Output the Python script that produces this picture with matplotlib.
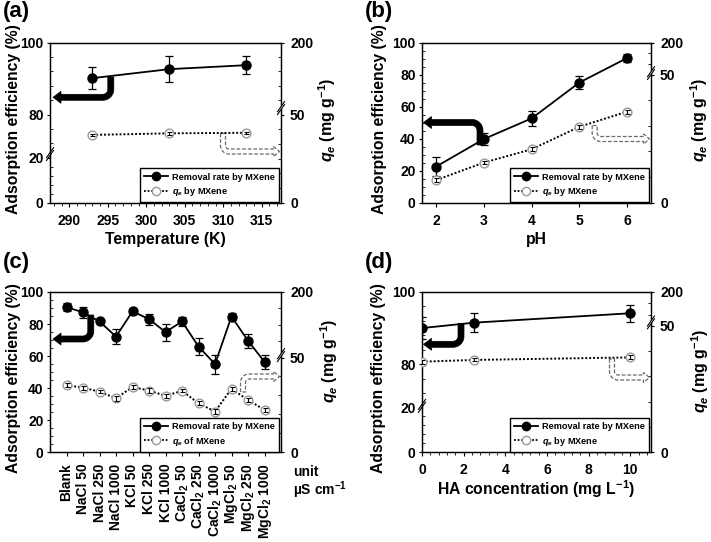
import numpy as np
import matplotlib
matplotlib.use('Agg')
import matplotlib.pyplot as plt
from matplotlib import transforms
from matplotlib.ticker import FixedLocator, MultipleLocator, NullLocator
from matplotlib.lines import Line2D
from matplotlib.patches import Polygon

plt.rcParams.update({
    'font.family': ['Liberation Sans', 'DejaVu Sans'],
    'font.weight': 'bold',
    'axes.labelweight': 'bold',
    'mathtext.fontset': 'custom',
    'mathtext.rm': 'Liberation Sans:bold',
    'mathtext.it': 'Liberation Sans:italic:bold',
    'mathtext.bf': 'Liberation Sans:bold',
    'axes.linewidth': 0.9,
})

# ---------------- data ----------------
temp = [293, 303, 313]
removal_a = [90.1, 92.6, 93.7]
removal_a_err = [3.1, 3.6, 2.5]
qe_a = [38.4, 39.3, 39.6]
qe_a_err = [0.8, 0.8, 0.6]

ph = [2, 3, 4, 5, 6]
removal_b = [22.5, 39.7, 52.6, 75.0, 90.3]
removal_b_err = [6.0, 4.0, 4.6, 4.0, 2.6]
qe_b = [8.8, 15.6, 20.8, 29.6, 35.5]
qe_b_err = [0.8, 0.6, 0.8, 0.8, 0.8]

salts = ['Blank', 'NaCl 50', 'NaCl 250', 'NaCl 1000', 'KCl 50', 'KCl 250',
         'KCl 1000', 'CaCl$_2$ 50', 'CaCl$_2$ 250', 'CaCl$_2$ 1000',
         'MgCl$_2$ 50', 'MgCl$_2$ 250', 'MgCl$_2$ 1000']
removal_c = [90.6, 87.3, 81.6, 72.2, 87.9, 83.1, 75.0, 81.6, 66.0, 55.0, 84.7, 69.6, 56.4]
removal_c_err = [2.4, 3.5, 1.0, 4.6, 1.6, 3.4, 5.3, 2.9, 5.4, 6.0, 1.9, 4.4, 4.5]
qe_c = [35.4, 34.1, 32.0, 28.5, 34.4, 32.6, 29.8, 32.4, 25.9, 21.5, 33.5, 27.6, 22.4]
qe_c_err = [1.2, 1.0, 0.8, 1.2, 1.0, 1.2, 1.2, 0.8, 1.2, 1.2, 1.0, 1.0, 1.0]

ha_conc = [0, 2.5, 10]
removal_d = [90.0, 91.5, 94.1]
removal_d_err = [3.0, 2.6, 2.4]
qe_d = [35.8, 36.5, 37.5]
qe_d_err = [0.8, 0.6, 0.8]

W, H = 711, 542
fig = plt.figure(figsize=(W / 100, H / 100), dpi=100)
pix = transforms.Affine2D().scale(1 / W, -1 / H).translate(0, 1) + fig.transFigure


def add_axes_px(l, t, r, b):
    return fig.add_axes([l / W, 1 - b / H, (r - l) / W, (b - t) / H])


def piecewise(vals, pos):
    vals = np.asarray(vals, float)
    pos = np.asarray(pos, float)
    s0 = (pos[1] - pos[0]) / (vals[1] - vals[0])
    s1 = (pos[-1] - pos[-2]) / (vals[-1] - vals[-2])
    v = np.r_[vals[0] - 1e4, vals, vals[-1] + 1e4]
    p = np.r_[pos[0] - 1e4 * s0, pos, pos[-1] + 1e4 * s1]
    return (lambda x: np.interp(x, v, p)), (lambda y: np.interp(y, p, v))


def slash(ax_y, xa, yv, off=0.0):
    blend = transforms.blended_transform_factory(ax_y.transAxes, ax_y.transData)
    tr = fig.dpi_scale_trans + transforms.ScaledTranslation(xa, yv, blend)
    o = off / 100.0
    dx, dy, g = 0.035, 0.05, 0.028
    poly = Polygon([(-dx, -dy + o), (dx, dy + o), (dx, dy + g + o), (-dx, -dy + g + o)],
                   closed=True, facecolor='white', edgecolor='none',
                   transform=tr, clip_on=False, zorder=6)
    ax_y.add_artist(poly)
    for gg in (0, g):
        ax_y.add_artist(Line2D([-dx, dx], [-dy + gg + o, dy + gg + o], color='k', lw=0.8,
                               transform=tr, clip_on=False, zorder=7))


def bent_arrow(ax, x0, y0, yh, xtip, r, w, hw, hl, face, edge, ls, lw, n=14):
    sv = 1 if yh > y0 else -1
    sh = 1 if xtip > x0 else -1
    cx, cy = x0 + sh * r, yh - sv * r
    pts = [(x0, y0)]
    nrm = [(-sh, 0)]
    for t in np.linspace(0, np.pi / 2, n):
        pts.append((cx - sh * r * np.cos(t), cy + sv * r * np.sin(t)))
        nrm.append((-sh * np.cos(t), sv * np.sin(t)))
    xb = xtip - sh * hl
    pts.append((xb, yh))
    nrm.append((0, sv))
    pts = np.array(pts)
    nrm = np.array(nrm)
    outer = pts + nrm * w / 2
    inner = pts - nrm * w / 2
    head = [(xb, yh + sv * hw / 2), (xtip, yh), (xb, yh - sv * hw / 2)]
    verts = np.vstack([outer, head, inner[::-1]])
    poly = Polygon(verts, closed=True, facecolor=face, edgecolor=edge, linestyle=ls,
                   linewidth=lw, transform=pix, clip_on=False, zorder=2)
    ax.add_artist(poly)


def panel(box, x, rem, rem_err, qe, qe_err, xlim, lmap, rmap, lmaj, lmin, rmaj, rmin,
          xmaj, xmin, leg_q, ylab_pos, qlab_pos, xlabel=None, xticklabels=None):
    ax = add_axes_px(*box)
    ax2 = ax.twinx()
    if lmap is not None:
        ax.set_yscale('function', functions=piecewise(*lmap))
    ax2.set_yscale('function', functions=piecewise(*rmap))
    ax.set_ylim(0, 100)
    ax2.set_ylim(0, 200)
    ax.set_xlim(*xlim)

    ax.errorbar(x, rem, yerr=rem_err, fmt='-o', color='k', ms=6.5, lw=1.3,
                elinewidth=0.9, capsize=2.6, capthick=0.9, zorder=3)
    ax2.plot(x, qe, ls=(0, (1, 1)), color='k', lw=1.4, marker='o', ms=6.3,
             mfc='white', mec='#9a9a9a', mew=1.0, zorder=3)
    ax2.errorbar(x, qe, yerr=qe_err, fmt='none', ecolor='k', elinewidth=0.8,
                 capsize=1.8, capthick=0.8, zorder=4)

    ax.yaxis.set_major_locator(FixedLocator(lmaj))
    ax.yaxis.set_minor_locator(FixedLocator(lmin))
    ax2.yaxis.set_major_locator(FixedLocator(rmaj))
    ax2.yaxis.set_minor_locator(FixedLocator(rmin))
    ax.xaxis.set_major_locator(FixedLocator(xmaj))
    if xmin is None:
        ax.xaxis.set_minor_locator(NullLocator())
    else:
        ax.xaxis.set_minor_locator(MultipleLocator(xmin))
    if xticklabels is not None:
        ax.set_xticklabels(xticklabels, rotation=90, fontsize=9.8)

    ax.tick_params(axis='y', which='major', direction='out', length=2.5, width=0.8,
                   pad=2, labelsize=10)
    ax.tick_params(axis='y', which='minor', direction='in', length=2.5, width=0.6)
    ax2.tick_params(axis='y', which='major', direction='out', length=2.5, width=0.8,
                    pad=4, labelsize=10)
    ax2.tick_params(axis='y', which='minor', direction='in', length=2.5, width=0.6)
    ax.tick_params(axis='x', which='major', direction='out', length=3, width=0.8,
                   pad=5, labelsize=10)
    ax.tick_params(axis='x', which='minor', direction='out', length=2, width=0.6)

    ax.set_ylabel('Adsorption efficiency (%)', fontsize=11.3, va='center')
    ax.yaxis.set_label_coords(*ylab_pos)
    ax2.set_ylabel(r'$q_e$ (mg g$^{-1}$)', fontsize=11.5, va='center', rotation=90)
    ax2.yaxis.set_label_coords(*qlab_pos)
    if xlabel:
        ax.set_xlabel(xlabel, fontsize=11.3, va='center')
        ax.xaxis.set_label_coords(0.5, -37 / 160)

    handles = [Line2D([], [], color='k', lw=1.3, marker='o', ms=6),
               Line2D([], [], color='k', ls=(0, (1, 1)), lw=1.3, marker='o', ms=6,
                      mfc='white', mec='#9a9a9a')]
    leg = ax2.legend(handles, ['Removal rate by MXene', leg_q], loc='lower right',
                     bbox_to_anchor=(1 - 2.5 / 231, 0.004), borderaxespad=0,
                     frameon=True, fancybox=False, edgecolor='k', framealpha=1,
                     fontsize=6.6, handlelength=2.6, handletextpad=0.35,
                     labelspacing=0.35, borderpad=0.45)
    leg.get_frame().set_linewidth(1.0)
    return ax, ax2


# panel (a)
lmap_brk = ([0, 20, 69, 100], [0, 45, 48.4, 160])
ax_a, ax_a2 = panel((50, 42.5, 281, 202.5), temp, removal_a, removal_a_err, qe_a, qe_a_err,
                    (287.5, 317.5), lmap_brk, ([0, 50, 200], [0, 88, 160]),
                    [0, 20, 80, 100], [4, 8, 12, 16, 72, 76, 84, 88, 92, 96],
                    [0, 50, 200], [50 / 6, 100 / 6, 25, 100 / 3, 125 / 3, 80, 110, 140, 170],
                    [290, 295, 300, 305, 310, 315], 1, r'$q_e$ by MXene',
                    (-0.158, 0.52), (1.20, 0.515), xlabel='Temperature (K)')
slash(ax_a, 0, 20, off=2)
slash(ax_a2, 1, 50, off=5)
bent_arrow(ax_a2, 110.8, 77, 97.3, 53, 8, 6, 12, 8, 'k', 'k', '-', 0.5)
bent_arrow(ax_a2, 223, 133.5, 151.5, 279.5, 6, 5, 10, 6, 'white', '#6a6a6a', (0, (3, 1.5)), 0.9)

# panel (b)
ax_b, ax_b2 = panel((422, 42.5, 651, 202.5), ph, removal_b, removal_b_err, qe_b, qe_b_err,
                    (1.7, 6.5), None, ([0, 50, 200], [0, 128, 160]),
                    [0, 20, 40, 60, 80, 100], list(range(5, 100, 5)),
                    [0, 50, 200], [10, 20, 30, 40, 100, 150],
                    [2, 3, 4, 5, 6], None, r'$q_e$ by MXene',
                    (-0.185, 0.52), (1.21, 0.515), xlabel='pH')
slash(ax_b2, 1, 50, off=0)
bent_arrow(ax_b2, 480, 145, 122.5, 423.5, 8, 6, 12, 8, 'k', 'k', '-', 0.5)
bent_arrow(ax_b2, 594.7, 125.5, 139, 649.5, 6, 5, 10, 6, 'white', '#6a6a6a', (0, (3, 1.5)), 0.9)

# panel (c)
ax_c, ax_c2 = panel((50, 292, 281, 452.3), list(range(len(salts))), removal_c, removal_c_err,
                    qe_c, qe_c_err, (-1, 13), None, ([0, 50, 200], [0, 94.6, 160]),
                    [0, 20, 40, 60, 80, 100], list(range(5, 100, 5)),
                    [0, 50, 200], [10, 20, 30, 40, 87.5, 125, 162.5],
                    list(range(len(salts))), None, r'$q_e$ of MXene',
                    (-0.158, 0.464), (1.21, 0.57), xticklabels=salts)
slash(ax_c2, 1, 50, off=1)
ax_c.text(1.052, -0.123, 'unit', transform=ax_c.transAxes, fontsize=10,
          fontweight='bold', ha='left', va='center')
ax_c.text(1.052, -0.236, r'µS cm$^{-1}$', transform=ax_c.transAxes, fontsize=10,
          fontweight='bold', ha='left', va='center')
bent_arrow(ax_c2, 90.8, 315, 339, 53, 8, 6, 12, 8, 'k', 'k', '-', 0.5)
bent_arrow(ax_c2, 243, 392, 376.5, 279.5, 6, 5, 10, 6, 'white', '#6a6a6a', (0, (3, 1.5)), 0.9)

# panel (d)
ax_d, ax_d2 = panel((422, 292, 651, 452.3), ha_conc, removal_d, removal_d_err, qe_d, qe_d_err,
                    (0, 11), lmap_brk, ([0, 50, 200], [0, 126.3, 160]),
                    [0, 20, 80, 100], [4, 8, 12, 16, 72, 76, 84, 88, 92, 96],
                    [0, 50, 200], [10, 20, 30, 40, 100, 150],
                    [0, 2, 4, 6, 8, 10], 0.4, r'$q_e$ by MXene',
                    (-0.192, 0.464), (1.214, 0.51),
                    xlabel=r'HA concentration (mg L$^{-1}$)')
slash(ax_d, 0, 20, off=0)
slash(ax_d2, 1, 50, off=2)
bent_arrow(ax_d2, 461, 323.5, 344.3, 423.5, 8, 6, 12, 8, 'k', 'k', '-', 0.5)
bent_arrow(ax_d2, 612, 359, 377.5, 649.5, 6, 5, 10, 6, 'white', '#6a6a6a', (0, (3, 1.5)), 0.9)

# panel letters
for lab, xp, yp in [('(a)', 3, 1), ('(b)', 365, 1), ('(c)', 3, 252), ('(d)', 365, 252)]:
    fig.text(xp / W, 1 - yp / H, lab, fontsize=16, fontweight='bold', ha='left', va='top')

fig.savefig('out.png', dpi=100)
